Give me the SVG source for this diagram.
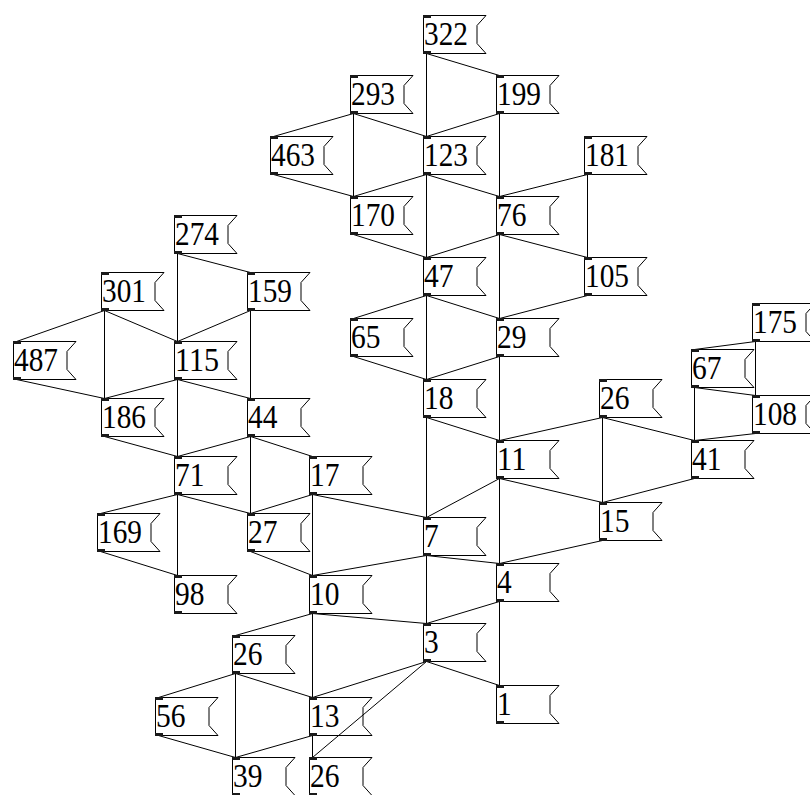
<svg xmlns="http://www.w3.org/2000/svg" xmlns:xlink="http://www.w3.org/1999/xlink" width="810" height="795" viewBox="0 0 810 795">
<style>
.flag{fill:none;stroke:#000;stroke-width:1}
.io{fill:#1a1a1a}
.lbl{font-family:"Liberation Serif","Times New Roman",serif;font-size:34px;fill:#000}
#connectors line{stroke:#000;stroke-width:1}
</style>
<defs>
<g id="msg">
<path class="flag" d="M0.5,0.5 H63 L54,10.5 V28.5 L63,38.5 H0.5 Z"/>
<rect class="io" x="0" y="0" width="8" height="3"/>
<rect class="io" x="0" y="36" width="8" height="3"/>
</g>
</defs>
<rect width="810" height="795" fill="#fff"/>
<g id="connectors">
<line x1="426.5" y1="53.5" x2="499.5" y2="75.5"/>
<line x1="426.5" y1="53.5" x2="426.5" y2="136.5"/>
<line x1="353.5" y1="113.5" x2="273.5" y2="136.5"/>
<line x1="353.5" y1="113.5" x2="353.5" y2="196.5"/>
<line x1="353.5" y1="113.5" x2="426.5" y2="136.5"/>
<line x1="499.5" y1="113.5" x2="426.5" y2="136.5"/>
<line x1="499.5" y1="113.5" x2="499.5" y2="196.5"/>
<line x1="273.5" y1="174.5" x2="353.5" y2="196.5"/>
<line x1="426.5" y1="174.5" x2="353.5" y2="196.5"/>
<line x1="426.5" y1="174.5" x2="499.5" y2="196.5"/>
<line x1="426.5" y1="174.5" x2="426.5" y2="257.5"/>
<line x1="587.5" y1="174.5" x2="499.5" y2="196.5"/>
<line x1="587.5" y1="174.5" x2="587.5" y2="257.5"/>
<line x1="353.5" y1="234.5" x2="426.5" y2="257.5"/>
<line x1="499.5" y1="234.5" x2="426.5" y2="257.5"/>
<line x1="499.5" y1="234.5" x2="587.5" y2="257.5"/>
<line x1="499.5" y1="234.5" x2="499.5" y2="318.5"/>
<line x1="426.5" y1="295.5" x2="353.5" y2="318.5"/>
<line x1="426.5" y1="295.5" x2="499.5" y2="318.5"/>
<line x1="426.5" y1="295.5" x2="426.5" y2="379.5"/>
<line x1="587.5" y1="295.5" x2="499.5" y2="318.5"/>
<line x1="353.5" y1="356.5" x2="426.5" y2="379.5"/>
<line x1="499.5" y1="356.5" x2="426.5" y2="379.5"/>
<line x1="499.5" y1="356.5" x2="499.5" y2="440.5"/>
<line x1="426.5" y1="417.5" x2="499.5" y2="440.5"/>
<line x1="426.5" y1="417.5" x2="426.5" y2="517.5"/>
<line x1="602.5" y1="417.5" x2="499.5" y2="440.5"/>
<line x1="602.5" y1="417.5" x2="694.5" y2="440.5"/>
<line x1="602.5" y1="417.5" x2="602.5" y2="502.5"/>
<line x1="755.5" y1="341.5" x2="694.5" y2="349.5"/>
<line x1="755.5" y1="341.5" x2="755.5" y2="395.5"/>
<line x1="694.5" y1="387.5" x2="755.5" y2="395.5"/>
<line x1="694.5" y1="387.5" x2="694.5" y2="440.5"/>
<line x1="755.5" y1="433.5" x2="694.5" y2="440.5"/>
<line x1="694.5" y1="478.5" x2="602.5" y2="502.5"/>
<line x1="499.5" y1="478.5" x2="426.5" y2="517.5"/>
<line x1="499.5" y1="478.5" x2="602.5" y2="502.5"/>
<line x1="499.5" y1="478.5" x2="499.5" y2="563.5"/>
<line x1="312.5" y1="494.5" x2="426.5" y2="517.5"/>
<line x1="602.5" y1="540.5" x2="499.5" y2="563.5"/>
<line x1="426.5" y1="555.5" x2="499.5" y2="563.5"/>
<line x1="426.5" y1="555.5" x2="312.5" y2="575.5"/>
<line x1="426.5" y1="555.5" x2="426.5" y2="623.5"/>
<line x1="499.5" y1="601.5" x2="426.5" y2="623.5"/>
<line x1="499.5" y1="601.5" x2="499.5" y2="685.5"/>
<line x1="312.5" y1="613.5" x2="426.5" y2="623.5"/>
<line x1="312.5" y1="613.5" x2="235.5" y2="635.5"/>
<line x1="312.5" y1="613.5" x2="312.5" y2="697.5"/>
<line x1="426.5" y1="661.5" x2="312.5" y2="697.5"/>
<line x1="426.5" y1="661.5" x2="312.5" y2="757.5"/>
<line x1="426.5" y1="661.5" x2="499.5" y2="685.5"/>
<line x1="235.5" y1="673.5" x2="158.5" y2="697.5"/>
<line x1="235.5" y1="673.5" x2="312.5" y2="697.5"/>
<line x1="235.5" y1="673.5" x2="235.5" y2="757.5"/>
<line x1="158.5" y1="735.5" x2="235.5" y2="757.5"/>
<line x1="312.5" y1="735.5" x2="235.5" y2="757.5"/>
<line x1="312.5" y1="735.5" x2="312.5" y2="757.5"/>
<line x1="177.5" y1="253.5" x2="250.5" y2="272.5"/>
<line x1="177.5" y1="253.5" x2="177.5" y2="341.5"/>
<line x1="104.5" y1="310.5" x2="16.5" y2="341.5"/>
<line x1="104.5" y1="310.5" x2="177.5" y2="341.5"/>
<line x1="104.5" y1="310.5" x2="104.5" y2="398.5"/>
<line x1="250.5" y1="310.5" x2="177.5" y2="341.5"/>
<line x1="250.5" y1="310.5" x2="250.5" y2="398.5"/>
<line x1="16.5" y1="379.5" x2="104.5" y2="398.5"/>
<line x1="177.5" y1="379.5" x2="104.5" y2="398.5"/>
<line x1="177.5" y1="379.5" x2="250.5" y2="398.5"/>
<line x1="177.5" y1="379.5" x2="177.5" y2="456.5"/>
<line x1="104.5" y1="436.5" x2="177.5" y2="456.5"/>
<line x1="250.5" y1="436.5" x2="177.5" y2="456.5"/>
<line x1="250.5" y1="436.5" x2="312.5" y2="456.5"/>
<line x1="250.5" y1="436.5" x2="250.5" y2="513.5"/>
<line x1="177.5" y1="494.5" x2="100.5" y2="513.5"/>
<line x1="177.5" y1="494.5" x2="250.5" y2="513.5"/>
<line x1="177.5" y1="494.5" x2="177.5" y2="575.5"/>
<line x1="312.5" y1="494.5" x2="250.5" y2="513.5"/>
<line x1="312.5" y1="494.5" x2="312.5" y2="575.5"/>
<line x1="100.5" y1="551.5" x2="177.5" y2="575.5"/>
<line x1="250.5" y1="551.5" x2="312.5" y2="575.5"/>
</g>
<g id="n322" transform="translate(423,15)"><use xlink:href="#msg"/><text class="lbl" x="1" y="30" textLength="44" lengthAdjust="spacingAndGlyphs">322</text></g>
<g id="n199" transform="translate(496,75)"><use xlink:href="#msg"/><text class="lbl" x="1" y="30" textLength="44" lengthAdjust="spacingAndGlyphs">199</text></g>
<g id="n293" transform="translate(350,75)"><use xlink:href="#msg"/><text class="lbl" x="1" y="30" textLength="44" lengthAdjust="spacingAndGlyphs">293</text></g>
<g id="n463" transform="translate(270,136)"><use xlink:href="#msg"/><text class="lbl" x="1" y="30" textLength="44" lengthAdjust="spacingAndGlyphs">463</text></g>
<g id="n123" transform="translate(423,136)"><use xlink:href="#msg"/><text class="lbl" x="1" y="30" textLength="44" lengthAdjust="spacingAndGlyphs">123</text></g>
<g id="n181" transform="translate(584,136)"><use xlink:href="#msg"/><text class="lbl" x="1" y="30" textLength="44" lengthAdjust="spacingAndGlyphs">181</text></g>
<g id="n170" transform="translate(350,196)"><use xlink:href="#msg"/><text class="lbl" x="1" y="30" textLength="44" lengthAdjust="spacingAndGlyphs">170</text></g>
<g id="n76" transform="translate(496,196)"><use xlink:href="#msg"/><text class="lbl" x="1" y="30" textLength="29.5" lengthAdjust="spacingAndGlyphs">76</text></g>
<g id="n47" transform="translate(423,257)"><use xlink:href="#msg"/><text class="lbl" x="1" y="30" textLength="29.5" lengthAdjust="spacingAndGlyphs">47</text></g>
<g id="n105" transform="translate(584,257)"><use xlink:href="#msg"/><text class="lbl" x="1" y="30" textLength="44" lengthAdjust="spacingAndGlyphs">105</text></g>
<g id="n65" transform="translate(350,318)"><use xlink:href="#msg"/><text class="lbl" x="1" y="30" textLength="29.5" lengthAdjust="spacingAndGlyphs">65</text></g>
<g id="n29" transform="translate(496,318)"><use xlink:href="#msg"/><text class="lbl" x="1" y="30" textLength="29.5" lengthAdjust="spacingAndGlyphs">29</text></g>
<g id="n18" transform="translate(423,379)"><use xlink:href="#msg"/><text class="lbl" x="1" y="30" textLength="29.5" lengthAdjust="spacingAndGlyphs">18</text></g>
<g id="n26a" transform="translate(599,379)"><use xlink:href="#msg"/><text class="lbl" x="1" y="30" textLength="29.5" lengthAdjust="spacingAndGlyphs">26</text></g>
<g id="n11" transform="translate(496,440)"><use xlink:href="#msg"/><text class="lbl" x="1" y="30" textLength="29.5" lengthAdjust="spacingAndGlyphs">11</text></g>
<g id="n175" transform="translate(752,303)"><use xlink:href="#msg"/><text class="lbl" x="1" y="30" textLength="44" lengthAdjust="spacingAndGlyphs">175</text></g>
<g id="n67" transform="translate(691,349)"><use xlink:href="#msg"/><text class="lbl" x="1" y="30" textLength="29.5" lengthAdjust="spacingAndGlyphs">67</text></g>
<g id="n108" transform="translate(752,395)"><use xlink:href="#msg"/><text class="lbl" x="1" y="30" textLength="44" lengthAdjust="spacingAndGlyphs">108</text></g>
<g id="n41" transform="translate(691,440)"><use xlink:href="#msg"/><text class="lbl" x="1" y="30" textLength="29.5" lengthAdjust="spacingAndGlyphs">41</text></g>
<g id="n15" transform="translate(599,502)"><use xlink:href="#msg"/><text class="lbl" x="1" y="30" textLength="29.5" lengthAdjust="spacingAndGlyphs">15</text></g>
<g id="n7" transform="translate(423,517)"><use xlink:href="#msg"/><text class="lbl" x="1" y="30" textLength="14.7" lengthAdjust="spacingAndGlyphs">7</text></g>
<g id="n4" transform="translate(496,563)"><use xlink:href="#msg"/><text class="lbl" x="1" y="30" textLength="14.7" lengthAdjust="spacingAndGlyphs">4</text></g>
<g id="n3" transform="translate(423,623)"><use xlink:href="#msg"/><text class="lbl" x="1" y="30" textLength="14.7" lengthAdjust="spacingAndGlyphs">3</text></g>
<g id="n1" transform="translate(496,685)"><use xlink:href="#msg"/><text class="lbl" x="1" y="30" textLength="14.7" lengthAdjust="spacingAndGlyphs">1</text></g>
<g id="n274" transform="translate(174,215)"><use xlink:href="#msg"/><text class="lbl" x="1" y="30" textLength="44" lengthAdjust="spacingAndGlyphs">274</text></g>
<g id="n301" transform="translate(101,272)"><use xlink:href="#msg"/><text class="lbl" x="1" y="30" textLength="44" lengthAdjust="spacingAndGlyphs">301</text></g>
<g id="n159" transform="translate(247,272)"><use xlink:href="#msg"/><text class="lbl" x="1" y="30" textLength="44" lengthAdjust="spacingAndGlyphs">159</text></g>
<g id="n487" transform="translate(13,341)"><use xlink:href="#msg"/><text class="lbl" x="1" y="30" textLength="44" lengthAdjust="spacingAndGlyphs">487</text></g>
<g id="n115" transform="translate(174,341)"><use xlink:href="#msg"/><text class="lbl" x="1" y="30" textLength="44" lengthAdjust="spacingAndGlyphs">115</text></g>
<g id="n186" transform="translate(101,398)"><use xlink:href="#msg"/><text class="lbl" x="1" y="30" textLength="44" lengthAdjust="spacingAndGlyphs">186</text></g>
<g id="n44" transform="translate(247,398)"><use xlink:href="#msg"/><text class="lbl" x="1" y="30" textLength="29.5" lengthAdjust="spacingAndGlyphs">44</text></g>
<g id="n71" transform="translate(174,456)"><use xlink:href="#msg"/><text class="lbl" x="1" y="30" textLength="29.5" lengthAdjust="spacingAndGlyphs">71</text></g>
<g id="n17" transform="translate(309,456)"><use xlink:href="#msg"/><text class="lbl" x="1" y="30" textLength="29.5" lengthAdjust="spacingAndGlyphs">17</text></g>
<g id="n169" transform="translate(97,513)"><use xlink:href="#msg"/><text class="lbl" x="1" y="30" textLength="44" lengthAdjust="spacingAndGlyphs">169</text></g>
<g id="n27" transform="translate(247,513)"><use xlink:href="#msg"/><text class="lbl" x="1" y="30" textLength="29.5" lengthAdjust="spacingAndGlyphs">27</text></g>
<g id="n98" transform="translate(174,575)"><use xlink:href="#msg"/><text class="lbl" x="1" y="30" textLength="29.5" lengthAdjust="spacingAndGlyphs">98</text></g>
<g id="n10" transform="translate(309,575)"><use xlink:href="#msg"/><text class="lbl" x="1" y="30" textLength="29.5" lengthAdjust="spacingAndGlyphs">10</text></g>
<g id="n26b" transform="translate(232,635)"><use xlink:href="#msg"/><text class="lbl" x="1" y="30" textLength="29.5" lengthAdjust="spacingAndGlyphs">26</text></g>
<g id="n56" transform="translate(155,697)"><use xlink:href="#msg"/><text class="lbl" x="1" y="30" textLength="29.5" lengthAdjust="spacingAndGlyphs">56</text></g>
<g id="n13" transform="translate(309,697)"><use xlink:href="#msg"/><text class="lbl" x="1" y="30" textLength="29.5" lengthAdjust="spacingAndGlyphs">13</text></g>
<g id="n39" transform="translate(232,757)"><use xlink:href="#msg"/><text class="lbl" x="1" y="30" textLength="29.5" lengthAdjust="spacingAndGlyphs">39</text></g>
<g id="n26c" transform="translate(309,757)"><use xlink:href="#msg"/><text class="lbl" x="1" y="30" textLength="29.5" lengthAdjust="spacingAndGlyphs">26</text></g>
</svg>
